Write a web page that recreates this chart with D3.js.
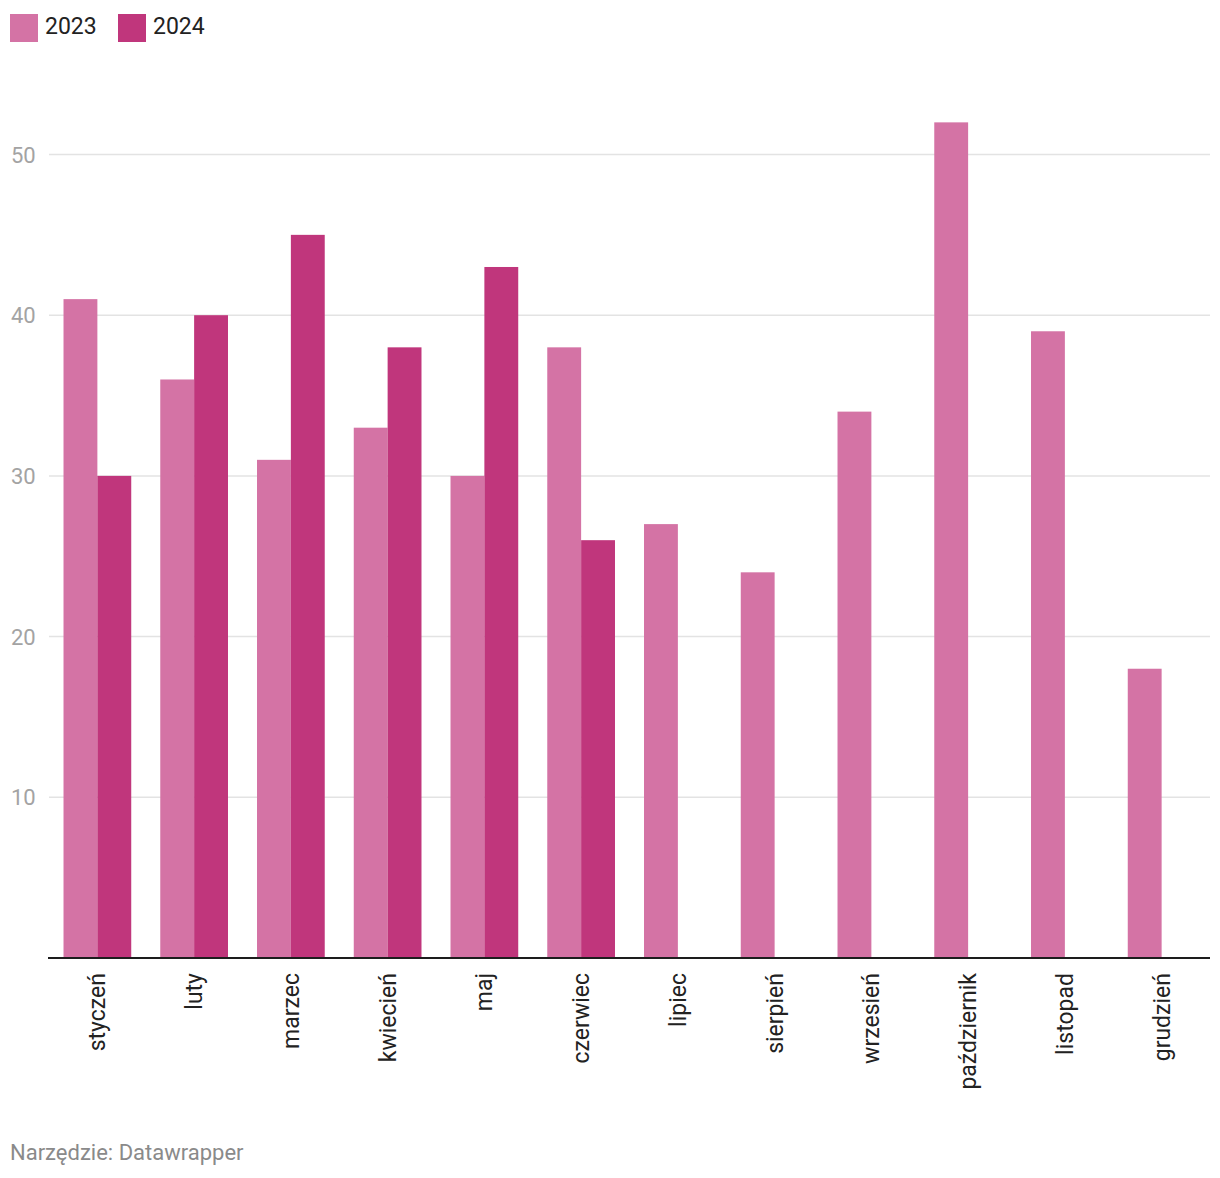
<!DOCTYPE html>
<html><head><meta charset="utf-8">
<script src="https://cdn.jsdelivr.net/npm/d3@7"></script>
<style>body{margin:0;background:#fff;font-family:Roboto,"Noto Sans",sans-serif;}</style>
</head><body><svg id="c" width="1220" height="1178"></svg>
<script>
const months = ["styczeń","luty","marzec","kwiecień","maj","czerwiec","lipiec","sierpień","wrzesień","październik","listopad","grudzień"];
const seriesNames = ["2023","2024"];
const values2023 = [41,36,31,33,30,38,27,24,34,52,39,18];
const values2024 = [30,40,45,38,43,26,null,null,null,null,null,null];
const yTicks = [10,20,30,40,50];
const colors = ["#d473a5","#c0367c"];

const svg = d3.select("#c");
const x = d3.scaleBand().domain(months).range([49,1210]).paddingInner(0.3).paddingOuter(0.15);
const xs = d3.scaleBand().domain(seriesNames).range([0,x.bandwidth()]);
const y = d3.scaleLinear().domain([0,50]).range([958,154.5]);

// grid
svg.append("g").selectAll("line").data(yTicks).join("line")
  .attr("x1",49).attr("x2",1210).attr("y1",d=>y(d)).attr("y2",d=>y(d))
  .attr("stroke","#e3e3e3").attr("stroke-width",1.5);
svg.append("g").selectAll("text").data(yTicks).join("text")
  .attr("x",11).attr("y",d=>y(d)+8).text(d=>d)
  .attr("font-size",22).attr("fill","#a3a3a3");

const data = [values2023, values2024];
data.forEach((vals,si)=>{
  svg.append("g").selectAll("rect").data(months.map((m,i)=>({m,v:vals[i]})).filter(d=>d.v!=null))
    .join("rect")
    .attr("x",d=>x(d.m)+xs(seriesNames[si]))
    .attr("width",xs.bandwidth())
    .attr("y",d=>y(d.v)).attr("height",d=>y(0)-y(d.v))
    .attr("fill",colors[si]);
});

// axis line
svg.append("line").attr("x1",48).attr("x2",1210).attr("y1",958).attr("y2",958)
  .attr("stroke","#1d1d1d").attr("stroke-width",2);

// x labels
svg.append("g").selectAll("text").data(months).join("text")
  .attr("transform",d=>`translate(${x(d)+x.bandwidth()/2+8},973) rotate(-90)`)
  .attr("text-anchor","end").attr("font-size",23).attr("fill","#222").text(d=>d);

// legend
const lg = svg.append("g");
seriesNames.forEach((s,i)=>{
  const lx = 10 + i*108;
  lg.append("rect").attr("x",lx).attr("y",14).attr("width",28).attr("height",28).attr("fill",colors[i]);
  lg.append("text").attr("x",lx+35).attr("y",34).attr("font-size",23).attr("fill","#222").text(s);
});

svg.append("text").attr("x",10).attr("y",1160).attr("font-size",22).attr("fill","#8a8a8a").text("Narzędzie: Datawrapper");
</script></body></html>
